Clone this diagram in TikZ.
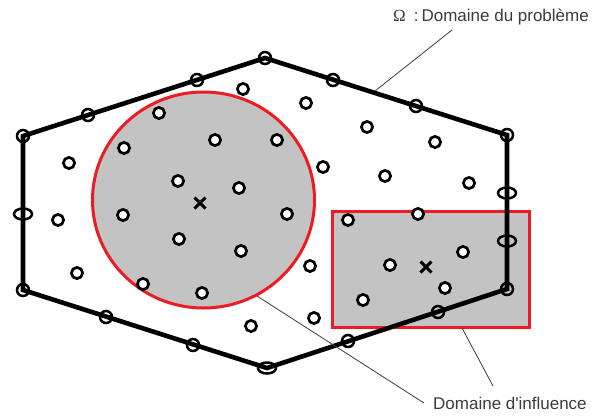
\documentclass[tikz,border=0pt]{standalone}
\usepackage{fontspec}
\newfontfamily\labelfont{Liberation Sans}
\newfontfamily\omegafont{Liberation Serif}
\definecolor{zonered}{RGB}{237,28,36}
\definecolor{zonegray}{RGB}{195,195,195}
\definecolor{labelgray}{RGB}{60,60,60}
\tikzset{
  zone/.style={draw=zonered, line width=3pt, fill=zonegray},
  hull/.style={line width=4.6pt, line join=miter},
  pt/.style={draw=black, line width=2.7pt, fill=white},
  bnd/.style={draw=black, line width=2.5pt},
  cross/.style={line width=3pt},
  leader/.style={draw=labelgray, line width=0.8pt},
  lbl/.style={inner sep=0pt, anchor=west, text=labelgray, font=\labelfont\fontsize{17}{20}\selectfont}
}
\begin{document}
\begin{tikzpicture}[x=1pt,y=-1pt]
\useasboundingbox (0,0) rectangle (599,416);

% influence zones
\path[zone] (203.5,200) ellipse [x radius=111, y radius=108];
\path[zone] (332,211) rectangle (529,327);

% hull vertices
\coordinate (A) at (23,136);
\coordinate (B) at (265,58);
\coordinate (C) at (507,135);
\coordinate (D) at (507,289);
\coordinate (E) at (267,368);
\coordinate (F) at (23,290);
\draw[hull] (A) -- (B) -- (C) -- (D) -- (E) -- (F) -- cycle;

% boundary nodes
\foreach \p in {(23,136),(88,115),(197,80),(265,58),(333,80),(416,106),(507,135),
                (507,289),(438,312),(348,341),(193,345),(106,317),(23,290)}
  \draw[bnd] \p circle [radius=6];
\foreach \p in {(23,214),(507,193),(507,241)}
  \draw[bnd] \p ellipse [x radius=9, y radius=5.5];
\draw[bnd] (267,368) ellipse [x radius=9, y radius=5.5];

% interior nodes
\foreach \p in {(243,89),(306,103),(159,113),(367,127),(124,148),(215,140),(277,140),
                (435,142),(69,163),(323,167),(178,181),(239,188),(385,176),(469,183),
                (123,215),(287,214),(58,220),(348,220),(418,214),(179,239),(241,251),
                (310,266),(390,265),(463,252),(77,273),(143,284),(202,293),(445,288),
                (363,300),(314,318),(251,326)}
  \draw[pt] \p circle [radius=5.6];

% zone centres
\coordinate (c1) at (200,203);
\coordinate (c2) at (426,267);
\foreach \c in {c1,c2}{
  \draw[cross] ([shift={(-5.5,-5.5)}]\c) -- ([shift={(5.5,5.5)}]\c);
  \draw[cross] ([shift={(-5.5,5.5)}]\c) -- ([shift={(5.5,-5.5)}]\c);
}

% labels
\node[lbl] (prob) at (393,17) {{\omegafont Ω}\hspace{8pt}:\hspace{3pt}Domaine du problème};
\node[lbl] (infl) at (433,403) {Domaine d'influence};

% leader lines
\coordinate (hullpt) at (375,91);
\coordinate (probend) at (452,30);
\coordinate (circpt) at (257,296);
\coordinate (rectpt) at (462,328);
\coordinate (inflend) at (493,386);
\draw[leader] (hullpt) -- (probend);
\draw[leader] (circpt) -- ([xshift=-9pt]infl.west);
\draw[leader] (rectpt) -- (inflend);
\end{tikzpicture}
\end{document}
